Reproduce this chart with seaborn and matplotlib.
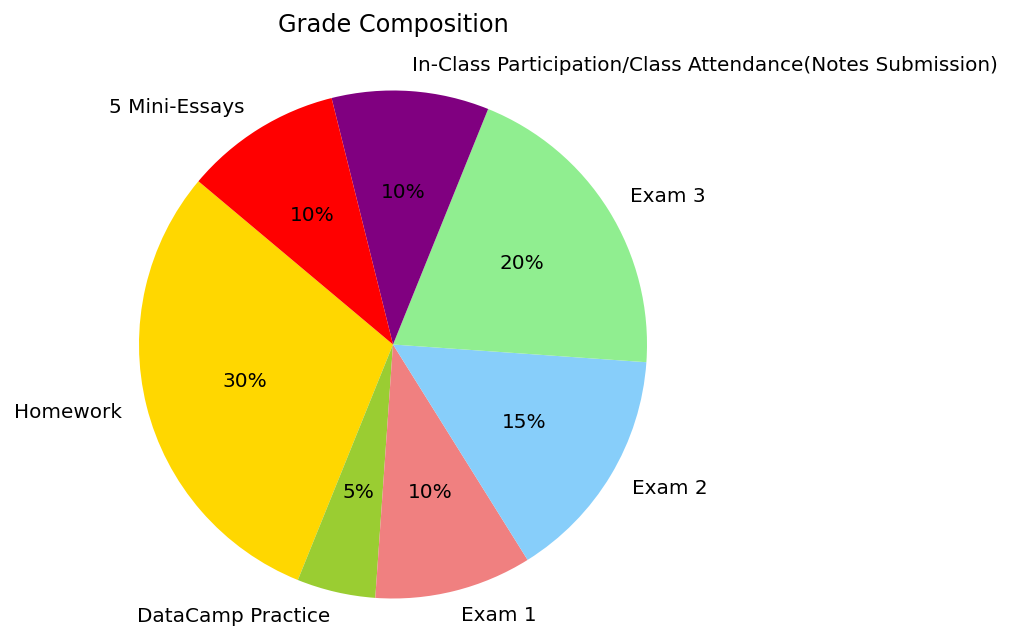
import matplotlib
matplotlib.use("Agg")
from matplotlib import pyplot as plt
import seaborn as sns

# === Data ===
components = ["Homework", "DataCamp Practice", "Exam 1", "Exam 2", "Exam 3",
              "In-Class Participation/Class Attendance(Notes Submission)", "5 Mini-Essays"]
weights = [30, 5, 10, 15, 20, 10, 10]
slice_colors = ["gold", "yellowgreen", "lightcoral", "lightskyblue",
                "lightgreen", "purple", "red"]

sns.set_style("white")
plt.rcParams['font.family'] = ['DejaVu Sans']
plt.rcParams['text.color'] = 'black'

fig = plt.figure(figsize=(10.12, 6.4), dpi=100)
# pie center at (393, 344) px, radius ~254 px -> limits +-1.25 -> 635 px box
ax = fig.add_axes([75.5 / 1012, (640 - 662) / 640, 635 / 1012, 635 / 640])

ax.pie(weights, labels=components, colors=slice_colors, autopct='%1.0f%%',
       startangle=140, textprops={'fontsize': 14.4, 'color': 'black'},
       wedgeprops={'linewidth': 0, 'edgecolor': 'none'})
ax.set_xlim(-1.25, 1.25)
ax.set_ylim(-1.25, 1.25)
ax.set_aspect('equal')
fig.text(393 / 1012, 1 - 25 / 640, "Grade Composition", fontsize=17.3,
         color='black', ha='center', va='center')

fig.savefig("out.png", dpi=100)
